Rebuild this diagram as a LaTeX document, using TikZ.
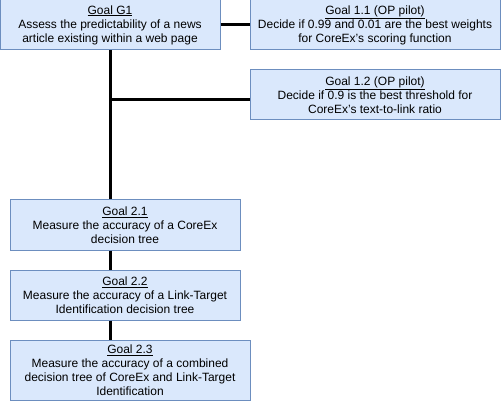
\documentclass[tikz,border=0pt]{standalone}
\usepackage{fontspec}
\setmainfont{Liberation Sans}
\definecolor{goalfill}{HTML}{DAE8FC}
\definecolor{goalline}{HTML}{6C8EBF}
\begin{document}
\begin{tikzpicture}[x=1pt,y=-1pt,
  goal/.style={draw=goalline,fill=goalfill,line width=1pt,align=center,
    inner sep=0pt,minimum height=50pt,font=\fontsize{12}{14}\selectfont},
  link/.style={line width=3pt}]
  \useasboundingbox (0,0) rectangle (501,401);
  % root goal
  \node[goal,minimum width=220pt] (g1) at (110,25)
    {\underline{Goal G1}\\Assess the predictability of a news\\article existing within a web page};
  % pilot goals
  \node[goal,minimum width=250pt] (g11) at (375,25)
    {\underline{Goal 1.1 (OP pilot)}\\Decide if 0.99 and 0.01 are the best weights\\for CoreEx's scoring function};
  \node[goal,minimum width=250pt] (g12) at (375,95)
    {\underline{Goal 1.2 (OP pilot)}\\Decide if 0.9 is the best threshold for\\CoreEx's text-to-link ratio};
  % level 2
  \node[goal,minimum width=230pt] (g21) at (125,225)
    {\underline{Goal 2.1}\\Measure the accuracy of a CoreEx\\decision tree};
  \node[goal,minimum width=230pt] (g22) at (125,295)
    {\underline{Goal 2.2}\\Measure the accuracy of a Link-Target\\Identification decision tree};
  \node[goal,minimum width=240pt,minimum height=60pt] (g23) at (130,370)
    {\underline{Goal 2.3}\\Measure the accuracy of a combined\\decision tree of CoreEx and Link-Target\\Identification};

  % junction
  \coordinate (j12) at ([yshift=-5pt]g12.west -| g1.south);

  % links
  \draw[link] (g1.east) -- (g11.west);
  \draw[link] (g1.south) -- (g1.south |- g21.north);
  \draw[link] (j12) -- ([yshift=-5pt]g12.west);
  \draw[link] (g1.south |- g21.south) -- (g1.south |- g22.north);
  \draw[link] (g1.south |- g22.south) -- (g1.south |- g23.north);
\end{tikzpicture}
\end{document}
